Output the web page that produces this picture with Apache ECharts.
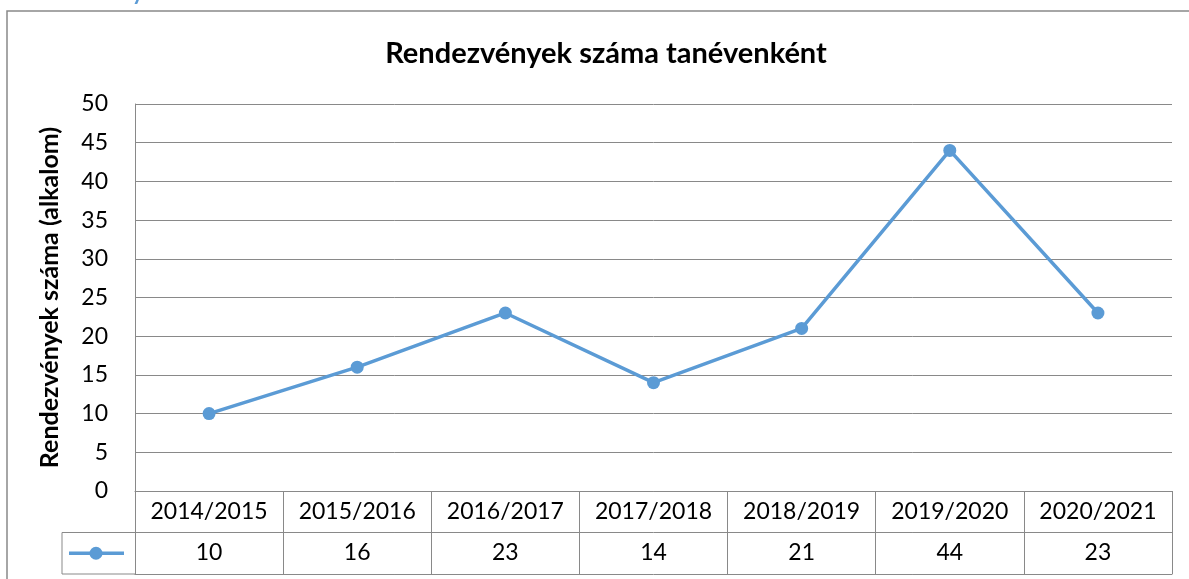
<!DOCTYPE html>
<html>
<head>
<meta charset="utf-8">
<script src="https://cdn.jsdelivr.net/npm/echarts@6/dist/echarts.min.js"></script>
<style>
  html, body { margin: 0; padding: 0; background: #fff; }
  #chart { width: 1189px; height: 579px; }
</style>
</head>
<body>
<div id="chart"></div>
<script>
// data
var categories = ['2014/2015', '2015/2016', '2016/2017', '2017/2018', '2018/2019', '2019/2020', '2020/2021'];
var events = [10, 16, 23, 14, 21, 44, 23];
var yTicks = [0, 5, 10, 15, 20, 25, 30, 35, 40, 45, 50];

var blue = '#5b9bd5';
var grey = '#898989';
var font = 'Lato, "Open Sans", sans-serif';

// plot area edges (px)
var gLeft = 135, gRight = 1172, gTop = 104, gBottom = 491;
var rowH = 41.5;

var chart = echarts.init(document.getElementById('chart'), null, { renderer: 'canvas' });

chart.setOption({
  animation: false,
  backgroundColor: '#fff',
  grid: {
    left: gLeft,
    right: 1189 - gRight,
    top: gTop,
    bottom: 579 - gBottom
  },
  xAxis: [
    {
      type: 'category',
      data: categories,
      boundaryGap: true,
      axisLine: { lineStyle: { color: grey, width: 1 } },
      axisTick: { show: true, interval: 0, length: rowH * 2, lineStyle: { color: grey } },
      axisLabel: { interval: 0, hideOverlap: false, color: '#000', fontSize: 23, fontFamily: font, margin: 9 }
    },
    {
      type: 'category',
      data: events.map(String),
      position: 'bottom',
      offset: rowH,
      boundaryGap: true,
      axisLine: { lineStyle: { color: grey, width: 1 } },
      axisTick: { show: false },
      axisLabel: { interval: 0, color: '#000', fontSize: 23, fontFamily: font, margin: 9 }
    },
    {
      type: 'category',
      data: categories,
      position: 'bottom',
      offset: rowH * 2,
      axisLine: { lineStyle: { color: grey, width: 1 } },
      axisTick: { show: false },
      axisLabel: { show: false }
    }
  ],
  yAxis: {
    type: 'value',
    min: yTicks[0],
    max: yTicks[yTicks.length - 1],
    interval: 5,
    name: 'Rendezvények száma (alkalom)',
    nameLocation: 'middle',
    nameRotate: 90,
    nameGap: 73,
    nameTextStyle: { color: '#000', fontSize: 25, fontWeight: 'bold', fontFamily: font },
    axisLine: { show: true, lineStyle: { color: grey, width: 1 } },
    axisTick: { show: false },
    splitLine: { lineStyle: { color: grey, width: 1 } },
    axisLabel: { color: '#000', fontSize: 23, fontFamily: font, margin: 27 }
  },
  series: [
    {
      type: 'line',
      data: events,
      xAxisIndex: 0,
      symbol: 'circle',
      symbolSize: 13,
      lineStyle: { color: blue, width: 3.5 },
      itemStyle: { color: blue }
    }
  ],
  graphic: [
    // outer chart frame (runs past the right and bottom edges)
    {
      type: 'rect',
      shape: { x: 7, y: 11, width: 1400, height: 800 },
      style: { fill: null, stroke: grey, lineWidth: 1.5 },
      silent: true
    },
    // cut-off heading above the chart
    {
      type: 'text',
      x: 25, y: 4,
      style: {
        text: 'Rendezvények számának alakulása az elmúlt tanévekben',
        fill: blue,
        font: 'bold 22px ' + font,
        textAlign: 'left',
        textVerticalAlign: 'bottom'
      }
    },
    // chart title
    {
      type: 'text',
      x: 606, y: 54,
      style: {
        text: 'Rendezvények száma tanévenként',
        fill: '#000',
        font: 'bold 29px ' + font,
        textAlign: 'center',
        textVerticalAlign: 'middle'
      }
    },
    // legend key cell of the data table
    {
      type: 'polyline',
      shape: { points: [[gLeft, gBottom + rowH], [62, gBottom + rowH], [62, gBottom + rowH * 2], [gLeft, gBottom + rowH * 2]] },
      style: { fill: null, stroke: grey, lineWidth: 1 },
      silent: true
    },
    {
      type: 'line',
      shape: { x1: 69, y1: gBottom + rowH * 1.5, x2: 124, y2: gBottom + rowH * 1.5 },
      style: { stroke: blue, lineWidth: 3.5 },
      silent: true
    },
    {
      type: 'circle',
      shape: { cx: 96, cy: gBottom + rowH * 1.5, r: 6.5 },
      style: { fill: blue },
      silent: true
    }
  ]
});

window.addEventListener('resize', function() { chart.resize(); });
</script>
</body>
</html>
